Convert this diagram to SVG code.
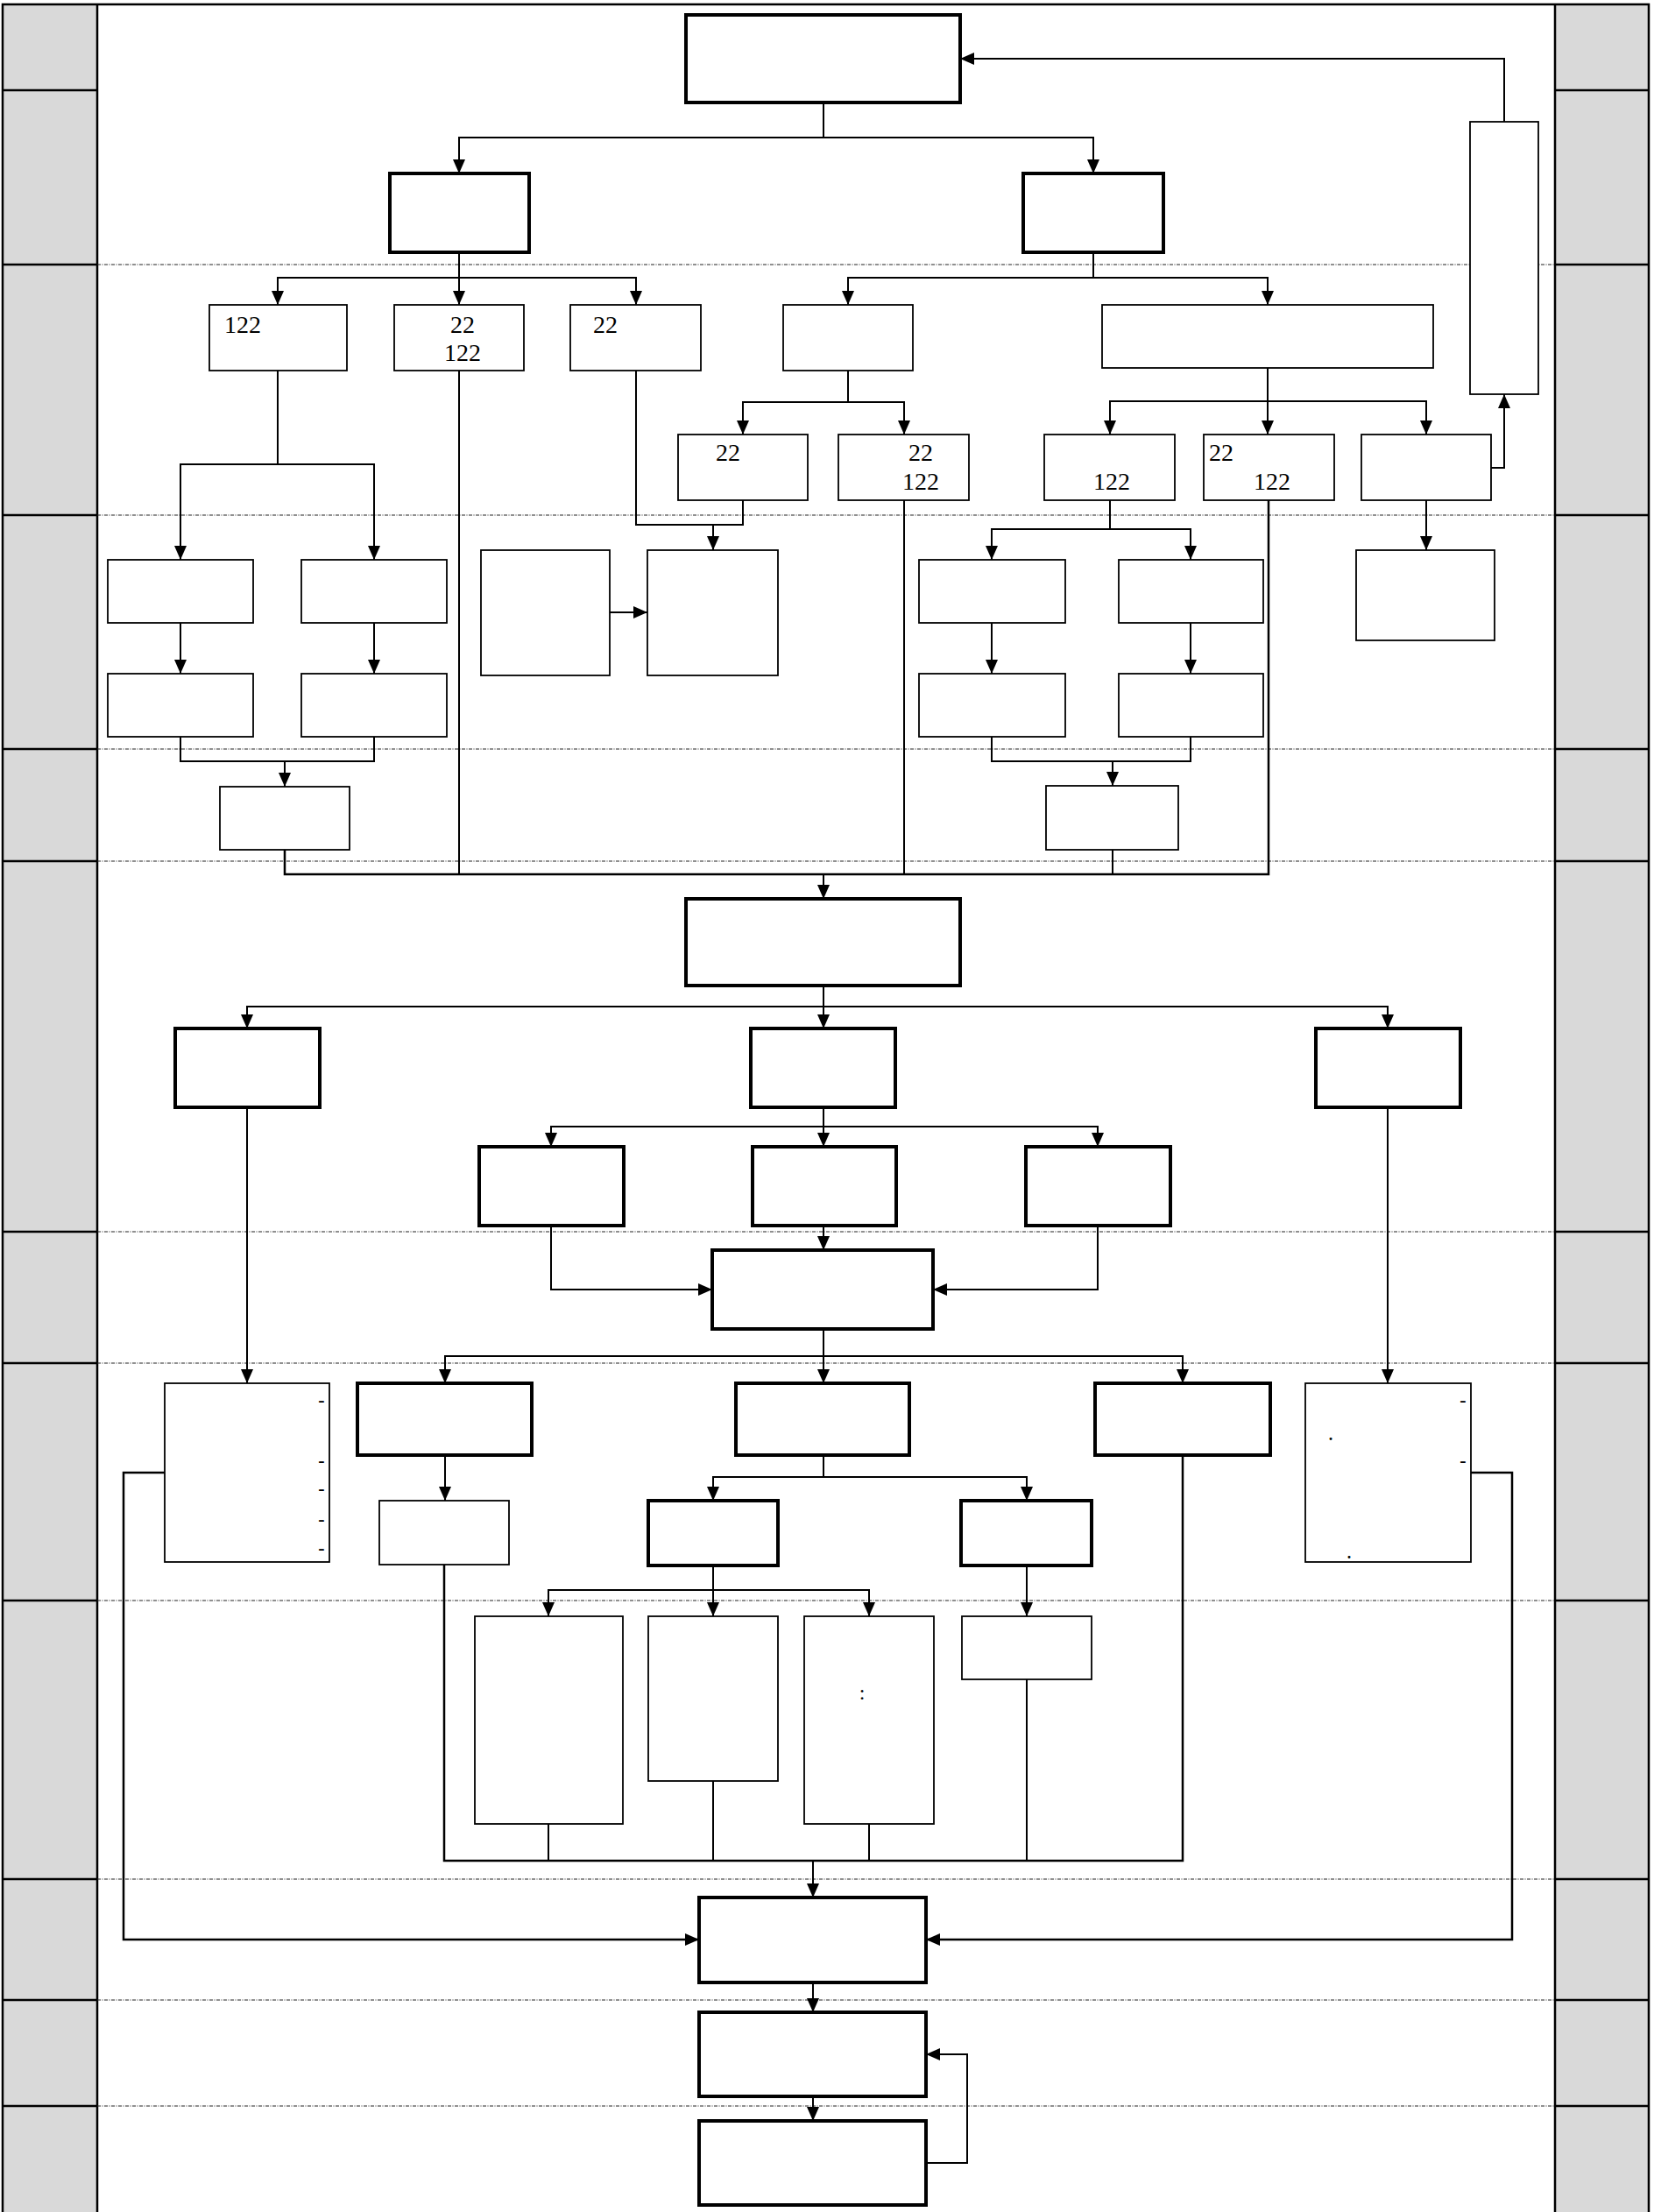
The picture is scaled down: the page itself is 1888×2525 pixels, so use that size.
<svg xmlns="http://www.w3.org/2000/svg" width="1888" height="2525" viewBox="0 0 1888 2525">
<style>
.bg{fill:#fff}
.gray{fill:#d9d9d9}
.fr{fill:none;stroke:#000;stroke-width:2.5}
.rl{stroke:#000;stroke-width:2.5}
.dl{stroke:#222;stroke-width:1.2;stroke-dasharray:4 1.5 1 1.5}
.tk{fill:#fff;stroke:#000;stroke-width:4}
.tn{fill:#fff;stroke:#000;stroke-width:1.8}
.c{fill:none;stroke:#000;stroke-width:2}
.a{marker-end:url(#ah)}
.t{font-family:"Liberation Serif","Times New Roman",serif;font-size:28px;fill:#000}
.m{font-family:"Liberation Serif","Times New Roman",serif;font-size:22px;font-weight:bold;fill:#000}
.d{font-family:"Liberation Serif","Times New Roman",serif;font-size:18px;font-weight:bold;fill:#000}
</style>
<defs>
<marker id="ah" markerUnits="userSpaceOnUse" markerWidth="17" markerHeight="15" refX="16" refY="7" orient="auto"><path d="M0,0 L16,7 L0,14 z" fill="#000"/></marker>
</defs>
<rect class="bg" x="0" y="0" width="1888" height="2525"/>
<g id="frame">
<rect class="gray" x="3" y="5" width="108" height="2520"/>
<rect class="gray" x="1775" y="5" width="107" height="2520"/>
<rect class="fr" x="3" y="5" width="1879" height="2530"/>
<line class="rl" x1="111" y1="5" x2="111" y2="2525"/>
<line class="rl" x1="1775" y1="5" x2="1775" y2="2525"/>
<g id="rows">
<line class="rl" x1="3" y1="103" x2="111" y2="103"/><line class="rl" x1="1775" y1="103" x2="1882" y2="103"/>
<line class="rl" x1="3" y1="302" x2="111" y2="302"/><line class="rl" x1="1775" y1="302" x2="1882" y2="302"/><line class="dl" x1="111" y1="302" x2="1775" y2="302"/>
<line class="rl" x1="3" y1="588" x2="111" y2="588"/><line class="rl" x1="1775" y1="588" x2="1882" y2="588"/><line class="dl" x1="111" y1="588" x2="1775" y2="588"/>
<line class="rl" x1="3" y1="855" x2="111" y2="855"/><line class="rl" x1="1775" y1="855" x2="1882" y2="855"/><line class="dl" x1="111" y1="855" x2="1775" y2="855"/>
<line class="rl" x1="3" y1="983" x2="111" y2="983"/><line class="rl" x1="1775" y1="983" x2="1882" y2="983"/><line class="dl" x1="111" y1="983" x2="1775" y2="983"/>
<line class="rl" x1="3" y1="1406" x2="111" y2="1406"/><line class="rl" x1="1775" y1="1406" x2="1882" y2="1406"/><line class="dl" x1="111" y1="1406" x2="1775" y2="1406"/>
<line class="rl" x1="3" y1="1556" x2="111" y2="1556"/><line class="rl" x1="1775" y1="1556" x2="1882" y2="1556"/><line class="dl" x1="111" y1="1556" x2="1775" y2="1556"/>
<line class="rl" x1="3" y1="1827" x2="111" y2="1827"/><line class="rl" x1="1775" y1="1827" x2="1882" y2="1827"/><line class="dl" x1="111" y1="1827" x2="1775" y2="1827"/>
<line class="rl" x1="3" y1="2145" x2="111" y2="2145"/><line class="rl" x1="1775" y1="2145" x2="1882" y2="2145"/><line class="dl" x1="111" y1="2145" x2="1775" y2="2145"/>
<line class="rl" x1="3" y1="2283" x2="111" y2="2283"/><line class="rl" x1="1775" y1="2283" x2="1882" y2="2283"/><line class="dl" x1="111" y1="2283" x2="1775" y2="2283"/>
<line class="rl" x1="3" y1="2404" x2="111" y2="2404"/><line class="rl" x1="1775" y1="2404" x2="1882" y2="2404"/><line class="dl" x1="111" y1="2404" x2="1775" y2="2404"/>
</g>
</g>
<g id="connectors">
<path class="c a" d="M940,117 V157 H524 V198"/>
<path class="c a" d="M940,157 H1248 V198"/>
<path class="c a" d="M1717,139 V67 H1096"/>
<path class="c a" d="M524,288 V317 H317 V348"/>
<path class="c a" d="M524,317 V348"/>
<path class="c a" d="M524,317 H726 V348"/>
<path class="c a" d="M1248,288 V317 H968 V348"/>
<path class="c a" d="M1248,317 H1447 V348"/>
<path class="c a" d="M968,423 V459 H848 V496"/>
<path class="c a" d="M968,459 H1032 V496"/>
<path class="c a" d="M1447,420 V458 H1267 V496"/>
<path class="c a" d="M1447,458 V496"/>
<path class="c a" d="M1447,458 H1628 V496"/>
<path class="c a" d="M1701,534 H1717 V450"/>
<path class="c a" d="M1628,571 V628"/>
<path class="c a" d="M317,423 V530 H206 V639"/>
<path class="c a" d="M317,530 H427 V639"/>
<path class="c a" d="M206,711 V769"/>
<path class="c a" d="M427,711 V769"/>
<path class="c" d="M206,841 V869 H427 V841"/>
<path class="c a" d="M325,869 V898"/>
<path class="c" d="M726,423 V599 H848 V571"/>
<path class="c a" d="M814,599 V628"/>
<path class="c a" d="M696,699 H739"/>
<path class="c a" d="M1267,571 V604 H1132 V639"/>
<path class="c a" d="M1267,604 H1359 V639"/>
<path class="c a" d="M1132,711 V769"/>
<path class="c a" d="M1359,711 V769"/>
<path class="c" d="M1132,841 V869 H1359 V841"/>
<path class="c a" d="M1270,869 V897"/>
<path class="c" style="stroke-width:2.5" d="M325,970 V998 H1448 V571"/>
<path class="c" d="M524,423 V998"/>
<path class="c" d="M1032,571 V998"/>
<path class="c" d="M1270,970 V998"/>
<path class="c a" d="M940,998 V1026"/>
<path class="c a" d="M940,1125 V1149 H282 V1174"/>
<path class="c a" d="M940,1149 V1174"/>
<path class="c a" d="M940,1149 H1584 V1174"/>
<path class="c a" d="M940,1264 V1286 H629 V1309"/>
<path class="c a" d="M940,1286 V1309"/>
<path class="c a" d="M940,1286 H1253 V1309"/>
<path class="c a" d="M940,1399 V1427"/>
<path class="c a" d="M629,1399 V1472 H813"/>
<path class="c a" d="M1253,1399 V1472 H1065"/>
<path class="c a" d="M940,1517 V1548 H508 V1579"/>
<path class="c a" d="M940,1548 V1579"/>
<path class="c a" d="M940,1548 H1350 V1579"/>
<path class="c a" d="M282,1264 V1579"/>
<path class="c a" d="M1584,1264 V1579"/>
<path class="c a" d="M508,1661 V1713"/>
<path class="c a" d="M940,1661 V1686 H814 V1713"/>
<path class="c a" d="M940,1686 H1172 V1713"/>
<path class="c a" d="M814,1787 V1815 H626 V1845"/>
<path class="c a" d="M814,1815 V1845"/>
<path class="c a" d="M814,1815 H992 V1845"/>
<path class="c a" d="M1172,1787 V1845"/>
<path class="c" style="stroke-width:2.5" d="M507,1786 V2124 H1350 V1661"/>
<path class="c" d="M626,2082 V2124"/>
<path class="c" d="M814,2033 V2124"/>
<path class="c" d="M992,2082 V2124"/>
<path class="c" d="M1172,1917 V2124"/>
<path class="c a" d="M928,2124 V2166"/>
<path class="c a" style="stroke-width:2.5" d="M188,1681 H141 V2214 H798"/>
<path class="c a" style="stroke-width:2.5" d="M1679,1681 H1726 V2214 H1057"/>
<path class="c a" d="M928,2263 V2297"/>
<path class="c a" d="M928,2393 V2421"/>
<path class="c a" d="M1057,2469 H1104 V2345 H1057"/>
</g>
<g id="T0"><rect class="tk" x="783" y="17" width="313" height="100"/></g>
<g id="L2a"><rect class="tk" x="445" y="198" width="159" height="90"/></g>
<g id="L2b"><rect class="tk" x="1168" y="198" width="160" height="90"/></g>
<g id="B1"><rect class="tn" x="239" y="348" width="157" height="75"/><text class="t" x="256" y="380">122</text></g>
<g id="B2"><rect class="tn" x="450" y="348" width="148" height="75"/><text class="t" x="528" y="380" text-anchor="middle">22</text><text class="t" x="528" y="412" text-anchor="middle">122</text></g>
<g id="B3"><rect class="tn" x="651" y="348" width="149" height="75"/><text class="t" x="677" y="380">22</text></g>
<g id="B4"><rect class="tn" x="894" y="348" width="148" height="75"/></g>
<g id="B5"><rect class="tn" x="1258" y="348" width="378" height="72"/></g>
<g id="R"><rect class="tn" x="1678" y="139" width="78" height="311"/></g>
<g id="C1"><rect class="tn" x="774" y="496" width="148" height="75"/><text class="t" x="817" y="526">22</text></g>
<g id="C2"><rect class="tn" x="957" y="496" width="149" height="75"/><text class="t" x="1051" y="526" text-anchor="middle">22</text><text class="t" x="1051" y="559" text-anchor="middle">122</text></g>
<g id="C3"><rect class="tn" x="1192" y="496" width="149" height="75"/><text class="t" x="1269" y="559" text-anchor="middle">122</text></g>
<g id="C4"><rect class="tn" x="1374" y="496" width="149" height="75"/><text class="t" x="1380" y="526">22</text><text class="t" x="1452" y="559" text-anchor="middle">122</text></g>
<g id="C5"><rect class="tn" x="1554" y="496" width="148" height="75"/></g>
<g id="D1"><rect class="tn" x="123" y="639" width="166" height="72"/></g>
<g id="D2"><rect class="tn" x="344" y="639" width="166" height="72"/></g>
<g id="D3"><rect class="tn" x="123" y="769" width="166" height="72"/></g>
<g id="D4"><rect class="tn" x="344" y="769" width="166" height="72"/></g>
<g id="D5"><rect class="tn" x="251" y="898" width="148" height="72"/></g>
<g id="E1"><rect class="tn" x="549" y="628" width="147" height="143"/></g>
<g id="E2"><rect class="tn" x="739" y="628" width="149" height="143"/></g>
<g id="F1"><rect class="tn" x="1049" y="639" width="167" height="72"/></g>
<g id="F2"><rect class="tn" x="1277" y="639" width="165" height="72"/></g>
<g id="F3"><rect class="tn" x="1049" y="769" width="167" height="72"/></g>
<g id="F4"><rect class="tn" x="1277" y="769" width="165" height="72"/></g>
<g id="F5"><rect class="tn" x="1194" y="897" width="151" height="73"/></g>
<g id="G"><rect class="tn" x="1548" y="628" width="158" height="103"/></g>
<g id="H"><rect class="tk" x="783" y="1026" width="313" height="99"/></g>
<g id="I1"><rect class="tk" x="200" y="1174" width="165" height="90"/></g>
<g id="I2"><rect class="tk" x="857" y="1174" width="165" height="90"/></g>
<g id="I3"><rect class="tk" x="1502" y="1174" width="165" height="90"/></g>
<g id="J1"><rect class="tk" x="547" y="1309" width="165" height="90"/></g>
<g id="J2"><rect class="tk" x="859" y="1309" width="164" height="90"/></g>
<g id="J3"><rect class="tk" x="1171" y="1309" width="165" height="90"/></g>
<g id="K"><rect class="tk" x="813" y="1427" width="252" height="90"/></g>
<g id="L1"><rect class="tn" x="188" y="1579" width="188" height="204"/>
<text class="m" x="367" y="1605" text-anchor="middle">-</text>
<text class="m" x="367" y="1674" text-anchor="middle">-</text>
<text class="m" x="367" y="1706" text-anchor="middle">-</text>
<text class="m" x="367" y="1741" text-anchor="middle">-</text>
<text class="m" x="367" y="1774" text-anchor="middle">-</text></g>
<g id="M2"><rect class="tk" x="408" y="1579" width="199" height="82"/></g>
<g id="M3"><rect class="tk" x="840" y="1579" width="198" height="82"/></g>
<g id="M4"><rect class="tk" x="1250" y="1579" width="200" height="82"/></g>
<g id="L2"><rect class="tn" x="1490" y="1579" width="189" height="204"/>
<text class="m" x="1670" y="1605" text-anchor="middle">-</text>
<text class="m" x="1670" y="1674" text-anchor="middle">-</text>
<text class="d" x="1519" y="1644" text-anchor="middle">.</text>
<text class="d" x="1540" y="1779" text-anchor="middle">.</text></g>
<g id="N1"><rect class="tn" x="433" y="1713" width="148" height="73"/></g>
<g id="N2"><rect class="tk" x="740" y="1713" width="148" height="74"/></g>
<g id="N3"><rect class="tk" x="1097" y="1713" width="149" height="74"/></g>
<g id="O1"><rect class="tn" x="542" y="1845" width="169" height="237"/></g>
<g id="O2"><rect class="tn" x="740" y="1845" width="148" height="188"/></g>
<g id="O3"><rect class="tn" x="918" y="1845" width="148" height="237"/><text class="t" x="984" y="1940" text-anchor="middle" style="font-size:24px">:</text></g>
<g id="O4"><rect class="tn" x="1098" y="1845" width="148" height="72"/></g>
<g id="P1"><rect class="tk" x="798" y="2166" width="259" height="97"/></g>
<g id="P2"><rect class="tk" x="798" y="2297" width="259" height="96"/></g>
<g id="P3"><rect class="tk" x="798" y="2421" width="259" height="96"/></g>
</svg>
